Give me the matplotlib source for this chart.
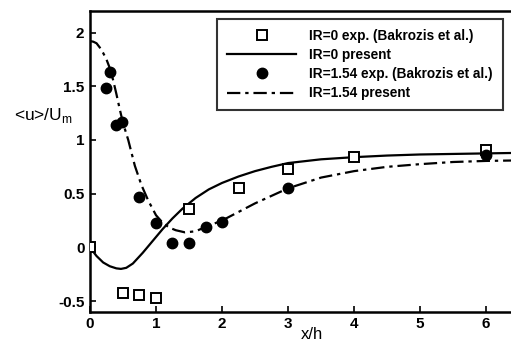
import numpy as np
import matplotlib.pyplot as plt

plt.rcParams['font.family'] = ['Liberation Sans', 'DejaVu Sans']
plt.rcParams['font.weight'] = 'bold'

# IR=0 measurements (open squares)
exp0_x = [0.0, 0.5, 0.75, 1.0, 1.5, 2.25, 3.0, 4.0, 6.0]
exp0_y = [0.0, -0.42, -0.44, -0.47, 0.36, 0.55, 0.73, 0.84, 0.91]

# IR=1.54 measurements (filled circles)
exp154_x = [0.25, 0.3, 0.4, 0.48, 0.75, 1.0, 1.25, 1.5, 1.75, 2.0, 3.0, 6.0]
exp154_y = [1.48, 1.63, 1.14, 1.17, 0.47, 0.23, 0.04, 0.04, 0.19, 0.24, 0.555, 0.86]

# computed profiles
sim0_x = [0.0, 0.05, 0.1, 0.2, 0.3, 0.4, 0.47, 0.55, 0.65, 0.8, 0.95, 1.1, 1.25, 1.4,
          1.6, 1.8, 2.0, 2.25, 2.5, 2.75, 3.0, 3.5, 4.0, 4.5, 5.0, 5.5, 6.0, 6.5]
sim0_y = [0.0, -0.04, -0.08, -0.14, -0.175, -0.195, -0.2, -0.19, -0.15, -0.05, 0.06, 0.17,
          0.27, 0.36, 0.46, 0.54, 0.6, 0.66, 0.71, 0.75, 0.785, 0.82, 0.84, 0.855, 0.865,
          0.87, 0.875, 0.88]

sim154_x = [0.0, 0.05, 0.1, 0.15, 0.2, 0.25, 0.3, 0.35, 0.4, 0.45, 0.5, 0.58, 0.68, 0.78,
            0.88, 1.0, 1.1, 1.2, 1.3, 1.44, 1.6, 1.75, 2.0, 2.25, 2.5, 2.75, 3.0, 3.5,
            4.0, 4.5, 5.0, 5.5, 6.0, 6.5]
sim154_y = [1.92, 1.915, 1.9, 1.86, 1.81, 1.75, 1.67, 1.56, 1.43, 1.29, 1.16, 1.0, 0.76,
            0.58, 0.44, 0.3, 0.23, 0.185, 0.16, 0.14, 0.15, 0.19, 0.25, 0.33, 0.41, 0.48,
            0.55, 0.65, 0.71, 0.75, 0.775, 0.795, 0.805, 0.81]

fig = plt.figure(figsize=(5.11, 3.45), dpi=100)
ax = fig.add_axes([0.176, 0.096, 0.84, 0.872])

ax.plot(exp0_x, exp0_y, ls='none', marker='s', ms=7, mfc='white', mec='black',
        mew=1.4, label='IR=0 exp. (Bakrozis et al.)', zorder=3)
ax.plot(sim0_x, sim0_y, color='black', lw=1.6, label='IR=0 present')
ax.plot(exp154_x, exp154_y, ls='none', marker='o', ms=7.5, color='black',
        label='IR=1.54 exp. (Bakrozis et al.)', zorder=3)
ax.plot(sim154_x, sim154_y, color='black', lw=1.6, dashes=(6, 2.2, 1.5, 2.2),
        label='IR=1.54 present')

ax.set_xlim(0, 6.5)
ax.set_ylim(-0.6, 2.2)
ax.set_xticks([0, 1, 2, 3, 4, 5, 6])
ax.set_yticks([-0.5, 0, 0.5, 1, 1.5, 2])
ax.set_yticklabels(['-0.5', '0', '0.5', '1', '1.5', '2'])
ax.tick_params(direction='in', length=4, width=1.2, labelsize=11, pad=4)
for s in ['left', 'bottom', 'top']:
    ax.spines[s].set_linewidth(1.8)
ax.spines['right'].set_visible(False)

ax.set_xlabel('x/h', fontsize=12, labelpad=0)
ax.xaxis.set_label_coords(0.518, -0.05)
ax.set_ylabel('<u>/U$_\\mathregular{m}$', fontsize=12.5, rotation=0)
ax.yaxis.set_label_coords(-0.108, 0.62)

leg = ax.legend(loc='upper right', bbox_to_anchor=(0.962, 0.975), fontsize=9.8,
                frameon=True, fancybox=False, edgecolor='black', handlelength=5.0,
                handletextpad=1.0, labelspacing=0.38, borderpad=0.75, borderaxespad=0)
leg.get_frame().set_linewidth(1.5)

fig.savefig('out.png', dpi=100)
